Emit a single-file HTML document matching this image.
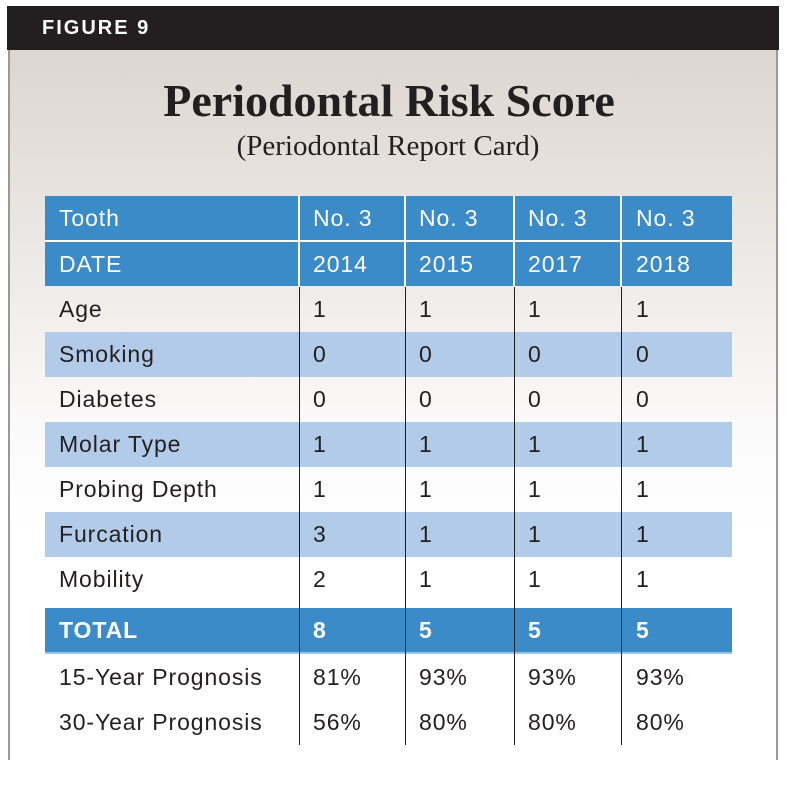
<!DOCTYPE html>
<html><head><style>
*{margin:0;padding:0;box-sizing:border-box}
body{width:786px;height:786px;background:#fff;position:relative;overflow:hidden;font-family:"Liberation Sans",sans-serif}
#hdr{position:absolute;left:7px;top:6px;width:772px;height:44px;background:#231f20;color:#fff;font-size:20px;font-weight:bold;letter-spacing:2px;padding:11px 0 0 35px}
#bg{position:absolute;left:8px;top:50px;width:770px;height:710px;background:linear-gradient(#dcd6d1 0px,#ece8e5 200px,#fbfafa 380px,#fff 480px);border-left:2px solid #999;border-right:2px solid #999}
#t1{position:absolute;left:0;width:778px;top:74px;text-align:center;font-family:"Liberation Serif",serif;font-weight:bold;font-size:46px;color:#231f20}
#t2{position:absolute;left:0;width:776px;top:130px;text-align:center;font-family:"Liberation Serif",serif;font-size:29px;color:#231f20}
.r{position:absolute;left:45px;width:687px;height:45px;font-size:23px;letter-spacing:0.9px;color:#231f20}
.r div{position:absolute;top:0;height:100%;padding-top:9px;padding-left:14px}
.b{background:#3a8bc8;color:#fff}
.l{background:#b2cbe9}
.c0{left:0;width:254px}.c1{left:254px;width:106px}.c2{left:360px;width:109px}.c3{left:469px;width:108px}.c4{left:577px;width:110px}
.vl{position:absolute;width:1px;background:#231f20}
.wl{position:absolute;width:2px;background:#fff}
</style></head><body>
<div id="hdr">FIGURE 9</div>
<div id="bg"></div>
<div id="t1">Periodontal Risk Score</div>
<div id="t2">(Periodontal Report Card)</div>

<div class="r b" style="top:196px"><div class="c0">Tooth</div><div class="c1">No. 3</div><div class="c2">No. 3</div><div class="c3">No. 3</div><div class="c4">No. 3</div></div>
<div class="r b" style="top:242px;height:44px"><div class="c0">DATE</div><div class="c1">2014</div><div class="c2">2015</div><div class="c3">2017</div><div class="c4">2018</div></div>
<div style="position:absolute;left:45px;top:240px;width:687px;height:2px;background:#fff"></div>
<div class="r" style="top:287px"><div class="c0">Age</div><div class="c1">1</div><div class="c2">1</div><div class="c3">1</div><div class="c4">1</div></div>
<div class="r l" style="top:332px"><div class="c0">Smoking</div><div class="c1">0</div><div class="c2">0</div><div class="c3">0</div><div class="c4">0</div></div>
<div class="r" style="top:377px"><div class="c0">Diabetes</div><div class="c1">0</div><div class="c2">0</div><div class="c3">0</div><div class="c4">0</div></div>
<div class="r l" style="top:422px"><div class="c0">Molar Type</div><div class="c1">1</div><div class="c2">1</div><div class="c3">1</div><div class="c4">1</div></div>
<div class="r" style="top:467px"><div class="c0">Probing Depth</div><div class="c1">1</div><div class="c2">1</div><div class="c3">1</div><div class="c4">1</div></div>
<div class="r l" style="top:512px"><div class="c0">Furcation</div><div class="c1">3</div><div class="c2">1</div><div class="c3">1</div><div class="c4">1</div></div>
<div class="r" style="top:557px"><div class="c0">Mobility</div><div class="c1">2</div><div class="c2">1</div><div class="c3">1</div><div class="c4">1</div></div>
<div class="r b" style="top:608px;border-bottom:2px solid #9cc3e6;height:46px"><div class="c0" style="font-weight:bold">TOTAL</div><div class="c1" style="font-weight:bold">8</div><div class="c2" style="font-weight:bold">5</div><div class="c3" style="font-weight:bold">5</div><div class="c4" style="font-weight:bold">5</div></div>
<div class="r" style="top:655px"><div class="c0">15-Year Prognosis</div><div class="c1">81%</div><div class="c2">93%</div><div class="c3">93%</div><div class="c4">93%</div></div>
<div class="r" style="top:700px"><div class="c0">30-Year Prognosis</div><div class="c1">56%</div><div class="c2">80%</div><div class="c3">80%</div><div class="c4">80%</div></div>

<div class="wl" style="left:298px;top:196px;height:91px"></div>
<div class="wl" style="left:404px;top:196px;height:91px"></div>
<div class="wl" style="left:513px;top:196px;height:91px"></div>
<div class="wl" style="left:620px;top:196px;height:91px"></div>
<div class="vl" style="left:299px;top:287px;height:458px"></div>
<div class="vl" style="left:405px;top:287px;height:458px"></div>
<div class="vl" style="left:514px;top:287px;height:458px"></div>
<div class="vl" style="left:621px;top:287px;height:458px"></div>
</body></html>
